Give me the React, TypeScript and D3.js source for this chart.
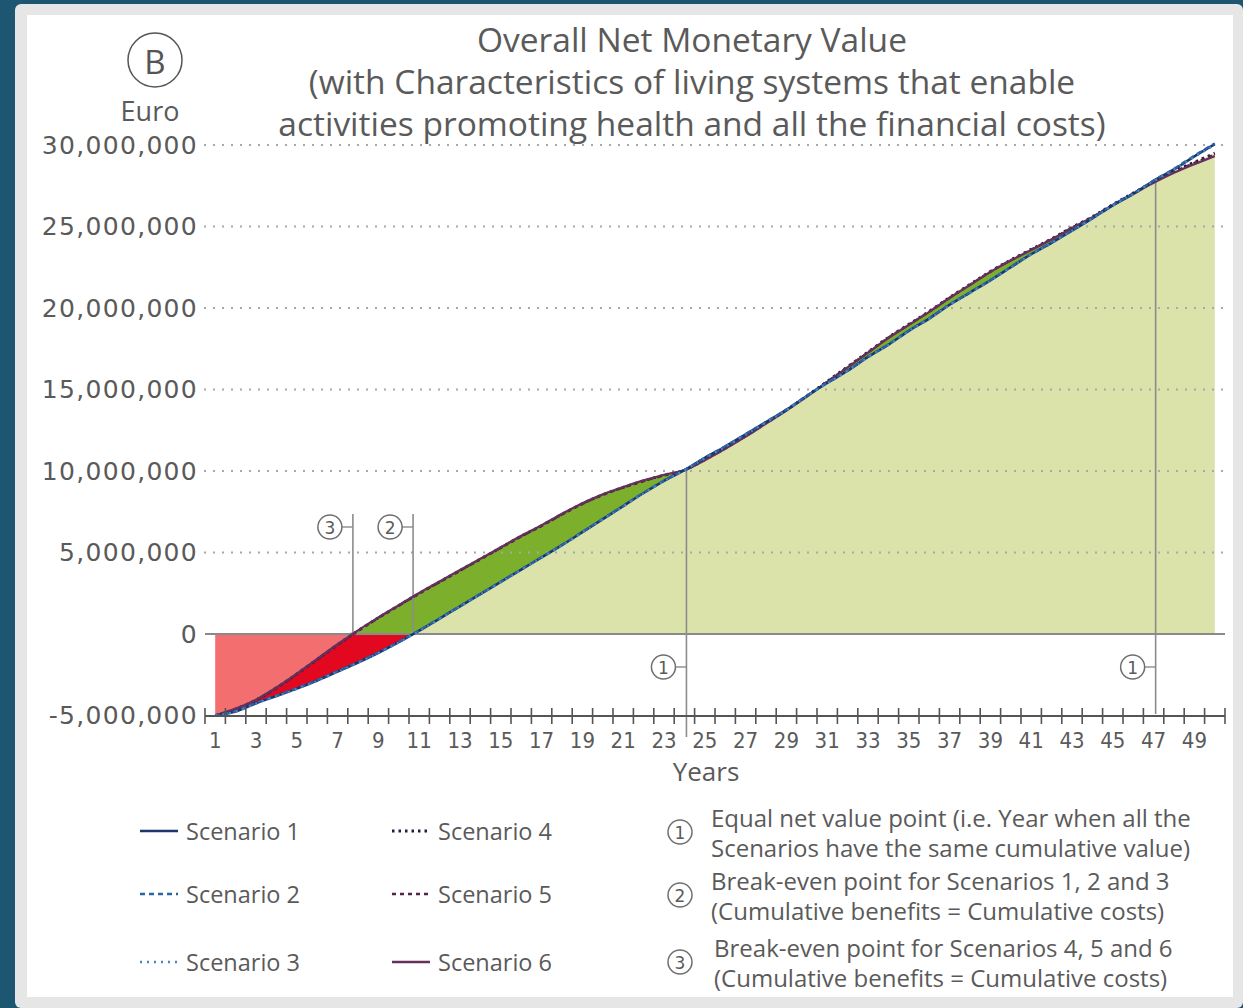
import React, { useEffect, useRef } from "react";
import * as d3 from "d3";

// years on the x axis
const years = Array.from({ length: 50 }, (_, i) => i + 1);
// y ticks, million euro
const yTicks = [-5, 0, 5, 10, 15, 20, 25, 30];

// cumulative net value, million euro
const scenario1 = [-5.0, -4.75, -4.25, -3.8, -3.35, -2.85, -2.3, -1.75, -1.15, -0.5, 0.2, 0.95, 1.7, 2.45, 3.2, 3.95, 4.7, 5.45, 6.25, 7.05, 7.85, 8.65, 9.4, 10.05, 10.8, 11.5, 12.25, 13.0, 13.75, 14.6, 15.4, 16.15, 17.0, 17.75, 18.6, 19.35, 20.2, 20.95, 21.7, 22.5, 23.3, 24.0, 24.75, 25.5, 26.3, 27.0, 27.8, 28.5, 29.3, 30.05];
const scenario2 = [-5.0, -4.73, -4.22, -3.78, -3.32, -2.83, -2.28, -1.73, -1.13, -0.48, 0.22, 0.97, 1.72, 2.47, 3.22, 3.97, 4.72, 5.47, 6.27, 7.07, 7.87, 8.67, 9.42, 10.05, 10.82, 11.52, 12.27, 13.02, 13.77, 14.62, 15.42, 16.17, 17.02, 17.77, 18.62, 19.37, 20.22, 20.97, 21.72, 22.52, 23.32, 24.02, 24.77, 25.52, 26.32, 27.02, 27.82, 28.55, 29.35, 30.1];
const scenario3 = [-5.0, -4.77, -4.27, -3.82, -3.37, -2.87, -2.32, -1.77, -1.17, -0.52, 0.18, 0.93, 1.68, 2.43, 3.18, 3.93, 4.68, 5.43, 6.23, 7.03, 7.83, 8.63, 9.38, 10.05, 10.78, 11.48, 12.23, 12.98, 13.73, 14.58, 15.38, 16.13, 16.98, 17.73, 18.58, 19.33, 20.18, 20.93, 21.68, 22.48, 23.28, 23.98, 24.73, 25.48, 26.28, 26.98, 27.78, 28.48, 29.28, 30.0];
const scenario4 = [-5.0, -4.6, -4.05, -3.3, -2.45, -1.55, -0.65, 0.2, 1.0, 1.75, 2.5, 3.2, 3.9, 4.6, 5.3, 6.0, 6.65, 7.35, 8.0, 8.55, 9.0, 9.4, 9.75, 10.05, 10.7, 11.4, 12.15, 12.95, 13.75, 14.6, 15.5, 16.4, 17.3, 18.2, 19.0, 19.8, 20.65, 21.45, 22.25, 22.95, 23.6, 24.25, 24.95, 25.6, 26.35, 27.05, 27.75, 28.4, 28.95, 29.5];
const scenario5 = [-5.0, -4.62, -4.07, -3.32, -2.47, -1.57, -0.67, 0.18, 0.98, 1.73, 2.48, 3.18, 3.88, 4.58, 5.28, 5.98, 6.63, 7.33, 7.98, 8.53, 8.98, 9.38, 9.73, 10.05, 10.68, 11.38, 12.13, 12.93, 13.73, 14.58, 15.48, 16.38, 17.28, 18.18, 18.98, 19.78, 20.63, 21.43, 22.23, 22.93, 23.58, 24.23, 24.93, 25.58, 26.33, 27.03, 27.72, 28.36, 28.9, 29.42];
const scenario6 = [-5.0, -4.58, -4.03, -3.28, -2.43, -1.53, -0.63, 0.22, 1.02, 1.77, 2.52, 3.22, 3.92, 4.62, 5.32, 6.02, 6.67, 7.37, 8.02, 8.57, 9.02, 9.42, 9.77, 10.05, 10.66, 11.36, 12.11, 12.91, 13.71, 14.56, 15.46, 16.36, 17.26, 18.16, 18.96, 19.76, 20.61, 21.41, 22.21, 22.91, 23.56, 24.21, 24.91, 25.56, 26.31, 27.0, 27.68, 28.3, 28.82, 29.32];

const scenarioNames = ["Scenario 1", "Scenario 2", "Scenario 3", "Scenario 4", "Scenario 5", "Scenario 6"];
const scenarioValues = [scenario1, scenario2, scenario3, scenario4, scenario5, scenario6];

// annotation years
const equalYears = [24.1, 47.1];
const breakEven123 = 10.7;
const breakEven456 = 7.75;

const titleLines = [
  "Overall Net Monetary Value",
  "(with Characteristics of living systems that enable",
  "activities promoting health and all the financial costs)",
];
const noteLabels = ["1", "2", "3"];
const noteLines = [
  ["Equal net value point (i.e. Year when all the", "Scenarios have the same cumulative value)"],
  ["Break-even point for Scenarios 1, 2 and 3", "(Cumulative benefits = Cumulative costs)"],
  ["Break-even point for Scenarios 4, 5 and 6", "(Cumulative benefits = Cumulative costs)"],
];

const lineStyles = [
  { color: "#1b3768", dash: null, width: 2.6 },
  { color: "#2a64a8", dash: "5,4", width: 2.3 },
  { color: "#4a86c4", dash: "2,5", width: 2.3 },
  { color: "#2a1840", dash: "2.5,4", width: 2.8 },
  { color: "#55224c", dash: "4,4", width: 2.3 },
  { color: "#66305c", dash: null, width: 2.3 },
];

const W = 1243;
const H = 1008;
const textColor = "#5a5a5a";

const App = () => {
  const svgRef = useRef(null);

  useEffect(() => {
    const svg = d3.select(svgRef.current);
    svg.selectAll("*").remove();

    // background panels
    svg.append("rect").attr("width", W).attr("height", H).attr("fill", "#1d5671");
    svg.append("rect").attr("x", 15).attr("y", 4).attr("width", W - 15).attr("height", H - 4).attr("rx", 6).attr("fill", "#e6e6e6");
    svg.append("rect").attr("x", 27).attr("y", 15).attr("width", 1206).attr("height", 982).attr("fill", "#ffffff");

    const x = d3.scaleLinear().domain([0.5, 50.5]).range([205, 1225]);
    const y = d3.scaleLinear().domain([-5, 30]).range([715.5, 145]);

    const A = scenario1;
    const B = scenario4;
    const curve = d3.curveMonotoneX;

    const area = (lo, hi) =>
      d3.area()
        .x((d, i) => x(years[i]))
        .y0((d, i) => y(lo(i)))
        .y1((d, i) => y(hi(i)))
        .curve(curve)(years);

    // light red: 0 down to upper curve
    svg.append("path").attr("d", area((i) => 0, (i) => Math.min(B[i], 0))).attr("fill", "#f36e6e");
    // dark red: between the two curves below zero
    svg.append("path").attr("d", area((i) => Math.min(B[i], 0), (i) => Math.min(A[i], 0))).attr("fill", "#e2081f");
    // light green: zero up to lower curve
    svg.append("path").attr("d", area((i) => 0, (i) => Math.max(Math.min(A[i], B[i]), 0))).attr("fill", "#dbe3aa");
    // dark green: between curves above zero
    svg.append("path").attr("d", area((i) => Math.max(Math.min(A[i], B[i]), 0), (i) => Math.max(B[i], 0))).attr("fill", "#7cb02c");

    // dotted gridlines
    yTicks.filter((t) => t > 0).forEach((t) => {
      svg.append("line")
        .attr("x1", 204).attr("x2", 1225)
        .attr("y1", y(t)).attr("y2", y(t))
        .attr("stroke", "#a8a8a8").attr("stroke-width", 2)
        .attr("stroke-dasharray", "2,7");
    });
    // zero line
    svg.append("line").attr("x1", 205).attr("x2", 1225).attr("y1", y(0)).attr("y2", y(0))
      .attr("stroke", "#8a8a8a").attr("stroke-width", 2);

    // y tick labels
    const fmt = d3.format(",");
    svg.append("g").selectAll("text").data(yTicks).join("text")
      .attr("x", 198).attr("y", (d) => y(d))
      .attr("text-anchor", "end").attr("dominant-baseline", "central")
      .attr("font-family", "DejaVu Sans, Verdana, sans-serif")
      .attr("font-size", 25).attr("letter-spacing", 1.3)
      .attr("fill", textColor)
      .text((d) => fmt(d * 1e6).replace("−", "-"));

    // marker lines
    const markerStroke = "#8c8c8c";
    const vline = (yr, y1, y2) =>
      svg.append("line").attr("x1", x(yr)).attr("x2", x(yr)).attr("y1", y1).attr("y2", y2)
        .attr("stroke", markerStroke).attr("stroke-width", 1.6);
    vline(equalYears[0], y(10.05), 737);
    vline(equalYears[1], y(27.9), 714);
    vline(breakEven456, 514, y(0));
    vline(breakEven123, 514, y(0));

    const circled = (cx, cy, r, label, fs) => {
      svg.append("circle").attr("cx", cx).attr("cy", cy).attr("r", r)
        .attr("fill", "#fff").attr("stroke", "#6f6f6f").attr("stroke-width", 1.5);
      svg.append("text").attr("x", cx).attr("y", cy + 1)
        .attr("text-anchor", "middle").attr("dominant-baseline", "central")
        .attr("font-family", "DejaVu Sans, sans-serif").attr("font-size", fs)
        .attr("fill", textColor).text(label);
    };
    const tag = (yr, cy, label) => {
      const cx = x(yr) - 23;
      svg.append("line").attr("x1", cx + 12).attr("x2", x(yr)).attr("y1", cy).attr("y2", cy)
        .attr("stroke", markerStroke).attr("stroke-width", 1.4);
      circled(cx, cy, 12, label, 17);
    };
    tag(equalYears[0], 667, "1");
    tag(equalYears[1], 667, "1");
    tag(breakEven456, 527, "3");
    tag(breakEven123, 527, "2");

    // scenario lines
    const line = (vals) =>
      d3.line().x((d, i) => x(years[i])).y((d) => y(d)).curve(curve)(vals);
    [3, 4, 5, 0, 1, 2].forEach((k) => {
      const s = lineStyles[k];
      svg.append("path").attr("d", line(scenarioValues[k]))
        .attr("fill", "none").attr("stroke", s.color).attr("stroke-width", s.width)
        .attr("stroke-dasharray", s.dash);
    });

    // x axis
    const axisY = 716;
    svg.append("line").attr("x1", 205).attr("x2", 1225).attr("y1", axisY).attr("y2", axisY)
      .attr("stroke", "#555").attr("stroke-width", 2);
    svg.append("g").selectAll("line").data([0, ...years]).join("line")
      .attr("x1", (d) => x(d + 0.5)).attr("x2", (d) => x(d + 0.5))
      .attr("y1", axisY - 8).attr("y2", axisY + 8)
      .attr("stroke", "#555").attr("stroke-width", 1.6);
    svg.append("g").selectAll("text").data(years.filter((d) => d % 2 === 1)).join("text")
      .attr("x", (d) => x(d)).attr("y", 740)
      .attr("text-anchor", "middle").attr("dominant-baseline", "central")
      .attr("font-family", "DejaVu Sans Condensed, DejaVu Sans, sans-serif")
      .attr("font-size", 22).attr("fill", textColor)
      .text((d) => d);
    svg.append("text").attr("x", 706).attr("y", 771)
      .attr("text-anchor", "middle").attr("dominant-baseline", "central")
      .attr("font-family", "Open Sans, sans-serif").attr("font-size", 26)
      .attr("fill", textColor).text("Years");

    // title, badge, unit
    svg.append("g").selectAll("text").data(titleLines).join("text")
      .attr("x", 692).attr("y", (d, i) => 39 + i * 42)
      .attr("text-anchor", "middle").attr("dominant-baseline", "central")
      .attr("font-family", "Open Sans, sans-serif").attr("font-size", 33.5)
      .attr("fill", textColor).text((d) => d);
    svg.append("circle").attr("cx", 155).attr("cy", 60).attr("r", 27)
      .attr("fill", "#fff").attr("stroke", "#555").attr("stroke-width", 1.5);
    svg.append("text").attr("x", 155).attr("y", 61)
      .attr("text-anchor", "middle").attr("dominant-baseline", "central")
      .attr("font-family", "Open Sans, sans-serif").attr("font-size", 33)
      .attr("fill", "#555").text("B");
    svg.append("text").attr("x", 150).attr("y", 110)
      .attr("text-anchor", "middle").attr("dominant-baseline", "central")
      .attr("font-family", "Open Sans, sans-serif").attr("font-size", 27)
      .attr("fill", textColor).text("Euro");

    // legend
    const legendRows = [831, 894, 962];
    scenarioNames.forEach((name, k) => {
      const col = k < 3 ? 0 : 1;
      const row = k % 3;
      const lx = col === 0 ? 140 : 392;
      const ly = legendRows[row];
      const s = lineStyles[k];
      svg.append("line").attr("x1", lx).attr("x2", lx + 38).attr("y1", ly).attr("y2", ly)
        .attr("stroke", s.color).attr("stroke-width", s.width)
        .attr("stroke-dasharray", s.dash);
      svg.append("text").attr("x", lx + 46).attr("y", ly)
        .attr("dominant-baseline", "central")
        .attr("font-family", "Open Sans, sans-serif").attr("font-size", 23.5)
        .attr("fill", textColor).text(name);
    });

    // notes
    const noteRows = [832, 895, 962];
    noteLines.forEach((lines, k) => {
      const cy = noteRows[k];
      circled(680, cy, 12, noteLabels[k], 17);
      lines.forEach((t, j) => {
        svg.append("text").attr("x", k === 2 ? 714 : 711).attr("y", cy - 15 + j * 30)
          .attr("dominant-baseline", "central")
          .attr("font-family", "Open Sans, sans-serif").attr("font-size", 24)
          .attr("fill", textColor).text(t);
      });
    });
  }, []);

  return (
    <div style={{ position: "absolute", left: 0, top: 0 }}>
      <svg ref={svgRef} width={W} height={H} style={{ display: "block" }} />
    </div>
  );
};

export default App;
